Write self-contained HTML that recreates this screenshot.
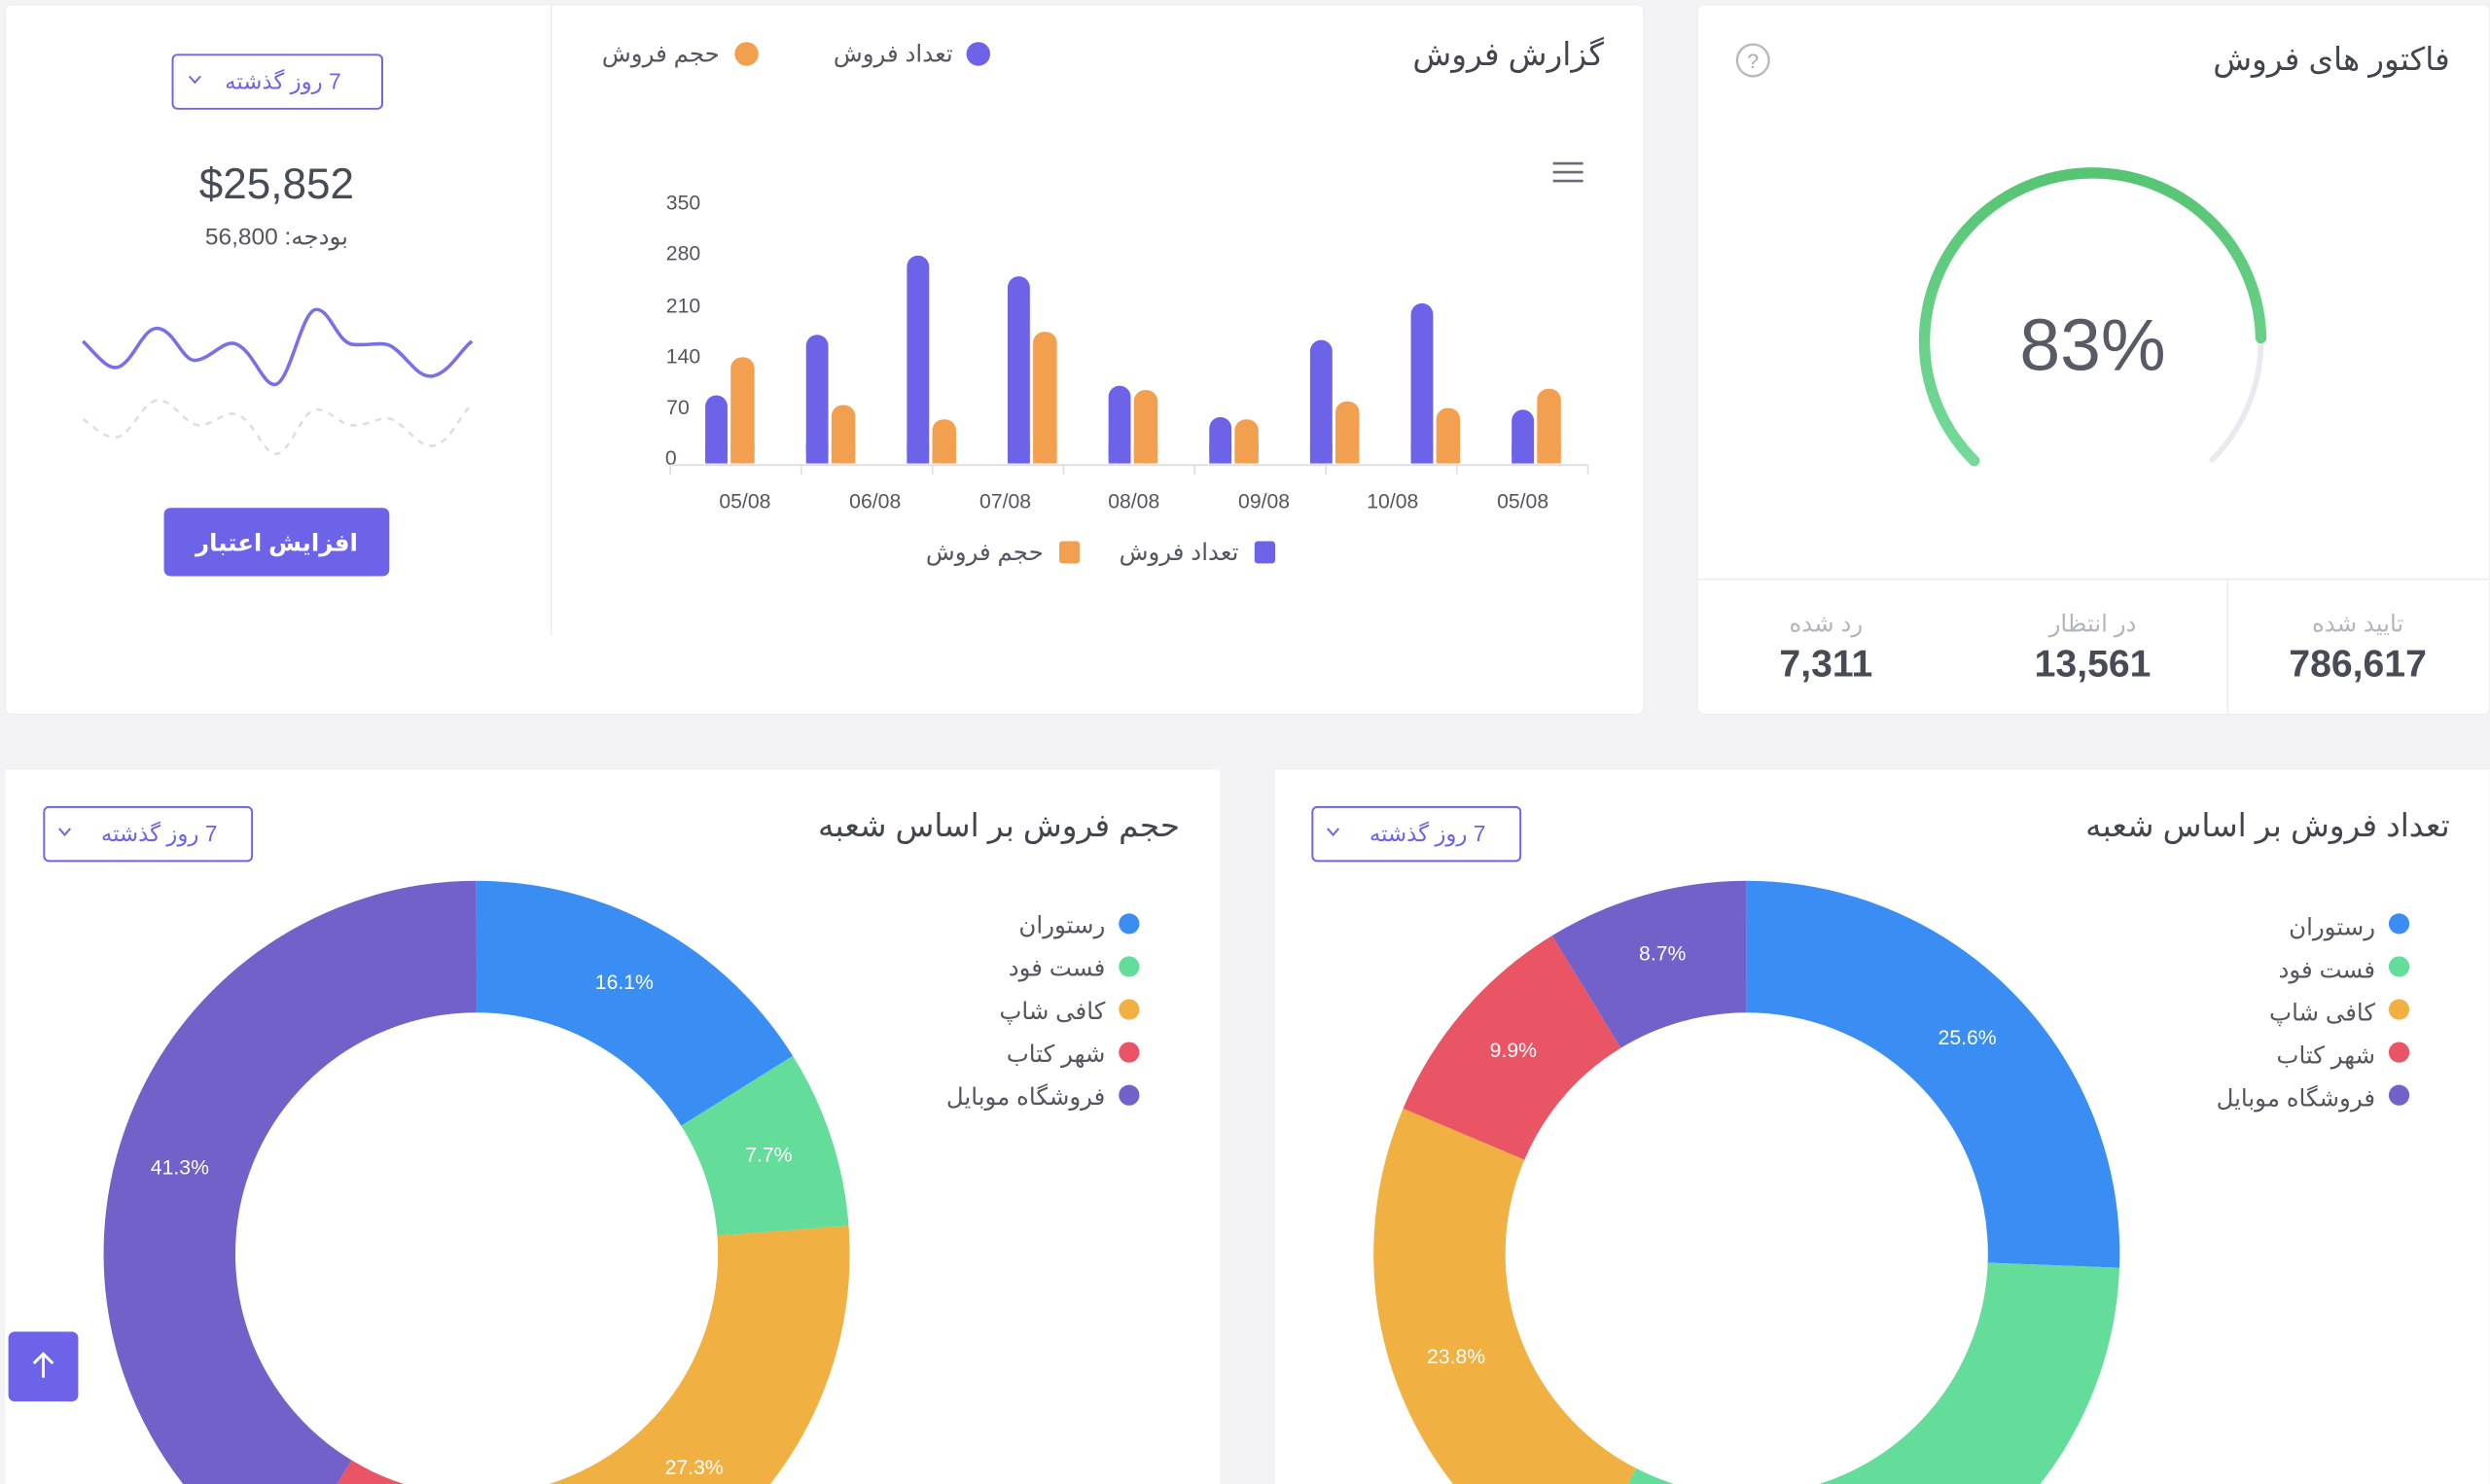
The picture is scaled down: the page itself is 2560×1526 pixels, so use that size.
<!DOCTYPE html>
<html><head><meta charset="utf-8"><style>
html,body{margin:0;padding:0;background:#f3f3f6;width:2560px;height:1526px;overflow:hidden;}
svg{display:block}
text{font-family:"Liberation Sans","DejaVu Sans",sans-serif;}
</style></head><body>
<svg width="2560" height="1526" viewBox="0 0 1568 935" xmlns="http://www.w3.org/2000/svg" overflow="hidden">
<defs>
<linearGradient id="g" x1="0" y1="1" x2="1" y2="0"><stop offset="0" stop-color="#4fc06a"/><stop offset="1" stop-color="#80e2a8"/></linearGradient>
<clipPath id="clip"><rect width="1568" height="935"/></clipPath>
</defs>
<g clip-path="url(#clip)">
<rect width="1568" height="935" fill="#f3f3f6"/>
<rect x="3" y="3" width="1032" height="447" rx="4" fill="#fff" stroke="#ececf0" stroke-width="0.6"/>
<rect x="1069" y="3" width="499" height="447" rx="4" fill="#fff" stroke="#ececf0" stroke-width="0.6"/>
<rect x="3" y="485" width="765" height="450" fill="#fff"/>
<rect x="803" y="485" width="765" height="450" fill="#fff"/>
<line x1="347" y1="3" x2="347" y2="400" stroke="#ececf0" stroke-width="1"/>

<rect x="108.5" y="34.5" width="132" height="34" rx="3" fill="none" stroke="#6c63e8" stroke-width="1.2"/>
<text x="178" y="56" font-size="14" fill="#6c63e8" text-anchor="middle" direction="rtl">7 روز گذشته</text>
<path d="M119 48 l3.5 4 l3.5 -4" fill="none" stroke="#6c63e8" stroke-width="1.2"/>
<text x="174" y="125" font-size="27" fill="#4a4a57" text-anchor="middle" font-weight="500">$25,852</text>
<text x="174" y="154" font-size="15" fill="#55555f" text-anchor="middle" direction="rtl">بودجه: 56,800</text>
<path d="M52 215 C62 225 68 234 75 231 C85 226 90 205 100 207 C110 209 115 228 123 227 C133 226 141 213 149 217 C160 222 166 245 174 242 C183 238 190 195 199 195 C208 195 212 216 222 217 C232 218 240 215 246 218 C256 224 262 238 272 237 C283 235 290 220 297 215" fill="none" stroke="#7a70e6" stroke-width="2.2"/>
<path d="M52 264 C60 270 68 278 75 275 C85 270 90 252 100 252 C110 253 116 268 126 268 C135 267 141 259 149 261 C160 265 166 287 174 286 C183 285 190 258 199 258 C208 258 214 268 222 268 C232 268 240 262 246 264 C256 268 262 281 272 281 C283 280 290 260 297 255" fill="none" stroke="#dcdce2" stroke-width="1.5" stroke-dasharray="4 4"/>
<rect x="103" y="320" width="142" height="43" rx="4" fill="#6c63e8"/>
<text x="174" y="347" font-size="15" fill="#fff" text-anchor="middle" font-weight="bold">افزایش اعتبار</text>

<text x="1010" y="41" font-size="20" fill="#44444f" text-anchor="end">گزارش فروش</text>
<circle cx="616" cy="34" r="7.5" fill="#6c63e8"/>
<text x="600" y="39" font-size="15" fill="#55555f" text-anchor="end">تعداد فروش</text>
<circle cx="470" cy="34" r="7.5" fill="#f2a04f"/>
<text x="453" y="39" font-size="15" fill="#55555f" text-anchor="end">حجم فروش</text>
<g stroke="#6b6b76" stroke-width="1.6"><line x1="978" y1="103" x2="997" y2="103"/><line x1="978" y1="108.5" x2="997" y2="108.5"/><line x1="978" y1="114" x2="997" y2="114"/></g>
<g font-size="13" fill="#55555f" text-anchor="end">
<text x="441" y="132">350</text><text x="441" y="164">280</text><text x="441" y="197">210</text><text x="441" y="229">140</text><text x="434" y="261">70</text><text x="426" y="293">0</text>
</g>
<line x1="422" y1="293" x2="1000" y2="293" stroke="#dedee3" stroke-width="1.2"/>
<g stroke="#dedee3" stroke-width="1"><line x1="422" y1="293" x2="422" y2="299"/><line x1="504.6" y1="293" x2="504.6" y2="299"/><line x1="587.1" y1="293" x2="587.1" y2="299"/><line x1="669.7" y1="293" x2="669.7" y2="299"/><line x1="752.3" y1="293" x2="752.3" y2="299"/><line x1="834.9" y1="293" x2="834.9" y2="299"/><line x1="917.4" y1="293" x2="917.4" y2="299"/><line x1="1000" y1="293" x2="1000" y2="299"/></g>
<g font-size="13" fill="#55555f" text-anchor="middle">
<text x="469" y="320">05/08</text><text x="551" y="320">06/08</text><text x="633" y="320">07/08</text><text x="714" y="320">08/08</text><text x="796" y="320">09/08</text><text x="877" y="320">10/08</text><text x="959" y="320">05/08</text>
</g>
<g fill="#6c63e8">
<rect x="444" y="249.1" width="14" height="42.9" rx="7"/><rect x="444" y="280" width="14" height="12"/>
<rect x="507.5" y="210.9" width="14" height="81.1" rx="7"/><rect x="507.5" y="280" width="14" height="12"/>
<rect x="571" y="161" width="14" height="131" rx="7"/><rect x="571" y="280" width="14" height="12"/>
<rect x="634.5" y="174.1" width="14" height="117.9" rx="7"/><rect x="634.5" y="280" width="14" height="12"/>
<rect x="698" y="243" width="14" height="49" rx="7"/><rect x="698" y="280" width="14" height="12"/>
<rect x="761.5" y="262.8" width="14" height="29.2" rx="7"/><rect x="761.5" y="280" width="14" height="12"/>
<rect x="825" y="214.2" width="14" height="77.8" rx="7"/><rect x="825" y="280" width="14" height="12"/>
<rect x="888.5" y="191.1" width="14" height="100.9" rx="7"/><rect x="888.5" y="280" width="14" height="12"/>
<rect x="952" y="258.1" width="14" height="33.9" rx="7"/><rect x="952" y="280" width="14" height="12"/>
</g>
<g fill="#f2a04f">
<rect x="460" y="225.1" width="15" height="66.9" rx="7"/><rect x="460" y="280" width="15" height="12"/>
<rect x="523.5" y="255.2" width="15" height="36.8" rx="7"/><rect x="523.5" y="280" width="15" height="12"/>
<rect x="587" y="264.2" width="15" height="27.8" rx="7"/><rect x="587" y="280" width="15" height="12"/>
<rect x="650.5" y="209" width="15" height="83" rx="7"/><rect x="650.5" y="280" width="15" height="12"/>
<rect x="714" y="245.8" width="15" height="46.2" rx="7"/><rect x="714" y="280" width="15" height="12"/>
<rect x="777.5" y="264.2" width="15" height="27.8" rx="7"/><rect x="777.5" y="280" width="15" height="12"/>
<rect x="841" y="252.9" width="15" height="39.1" rx="7"/><rect x="841" y="280" width="15" height="12"/>
<rect x="904.5" y="257.1" width="15" height="34.9" rx="7"/><rect x="904.5" y="280" width="15" height="12"/>
<rect x="968" y="244.9" width="15" height="47.1" rx="7"/><rect x="968" y="280" width="15" height="12"/>
</g>
<rect x="790" y="341" width="13" height="14" rx="2" fill="#6c63e8"/>
<text x="780" y="353" font-size="15" fill="#55555f" text-anchor="end">تعداد فروش</text>
<rect x="667" y="341" width="13" height="14" rx="2" fill="#f2a04f"/>
<text x="657" y="353" font-size="15" fill="#55555f" text-anchor="end">حجم فروش</text>

<text x="1543" y="44" font-size="20" fill="#44444f" text-anchor="end">فاکتور های فروش</text>
<circle cx="1104" cy="38" r="10" fill="none" stroke="#b9b9c2" stroke-width="1.5"/>
<text x="1104" y="43" font-size="13" fill="#a9a9b2" text-anchor="middle">?</text>
<circle cx="1318" cy="215" r="106" fill="none" stroke="#e9e9ef" stroke-width="3.5" pathLength="360" stroke-dasharray="270 90" transform="rotate(135 1318 215)" stroke-linecap="round"/>
<circle cx="1318" cy="215" r="106" fill="none" stroke="url(#g)" stroke-width="7" pathLength="360" stroke-dasharray="224 136" transform="rotate(135 1318 215)" stroke-linecap="round"/>
<text x="1318" y="233" font-size="46" fill="#5a5a66" text-anchor="middle">83%</text>
<line x1="1069" y1="365" x2="1568" y2="365" stroke="#ececf0"/>
<line x1="1403" y1="365" x2="1403" y2="450" stroke="#ececf0"/>
<g font-size="15" fill="#b4b4bd" text-anchor="middle"><text x="1485" y="398">تایید شده</text><text x="1318" y="398">در انتظار</text><text x="1150" y="398">رد شده</text></g>
<g font-size="24" fill="#4a4a57" text-anchor="middle" font-weight="bold"><text x="1485" y="426">786,617</text><text x="1318" y="426">13,561</text><text x="1150" y="426">7,311</text></g>

<text x="743" y="527" font-size="20" fill="#44444f" text-anchor="end">حجم فروش بر اساس شعبه</text>
<rect x="27.5" y="508.5" width="131" height="34" rx="3" fill="none" stroke="#6c63e8" stroke-width="1.2"/>
<text x="100" y="530" font-size="14" fill="#6c63e8" text-anchor="middle" direction="rtl">7 روز گذشته</text>
<path d="M37 522 l3.5 4 l3.5 -4" fill="none" stroke="#6c63e8" stroke-width="1.2"/>
<g transform="rotate(-90 300 790)" fill="none" stroke-width="83">
<circle cx="300" cy="790" r="193.5" pathLength="100" stroke="#3a8ef3" stroke-dasharray="16.1 83.9" stroke-dashoffset="0"/>
<circle cx="300" cy="790" r="193.5" pathLength="100" stroke="#64dc9a" stroke-dasharray="7.7 92.3" stroke-dashoffset="-16.1"/>
<circle cx="300" cy="790" r="193.5" pathLength="100" stroke="#f0b042" stroke-dasharray="27.3 72.7" stroke-dashoffset="-23.8"/>
<circle cx="300" cy="790" r="193.5" pathLength="100" stroke="#ea5566" stroke-dasharray="7.6 92.4" stroke-dashoffset="-51.1"/>
<circle cx="300" cy="790" r="193.5" pathLength="100" stroke="#7161c8" stroke-dasharray="41.3 58.7" stroke-dashoffset="-58.7"/>
</g>
<g font-size="13" fill="#fff" text-anchor="middle"><text x="393" y="623">16.1%</text><text x="484" y="732">7.7%</text><text x="437" y="929">27.3%</text><text x="113" y="740">41.3%</text></g>
<g font-size="15" fill="#55555f" text-anchor="end"><text x="696" y="588">رستوران</text><text x="696" y="615">فست فود</text><text x="696" y="642">کافی شاپ</text><text x="696" y="669">شهر کتاب</text><text x="696" y="696">فروشگاه موبایل</text></g>
<circle cx="711" cy="582" r="6.5" fill="#3a8ef3"/><circle cx="711" cy="609" r="6.5" fill="#64dc9a"/><circle cx="711" cy="636" r="6.5" fill="#f0b042"/><circle cx="711" cy="663" r="6.5" fill="#ea5566"/><circle cx="711" cy="690" r="6.5" fill="#7161c8"/>

<text x="1543" y="527" font-size="20" fill="#44444f" text-anchor="end">تعداد فروش بر اساس شعبه</text>
<rect x="826.5" y="508.5" width="131" height="34" rx="3" fill="none" stroke="#6c63e8" stroke-width="1.2"/>
<text x="899" y="530" font-size="14" fill="#6c63e8" text-anchor="middle" direction="rtl">7 روز گذشته</text>
<path d="M836 522 l3.5 4 l3.5 -4" fill="none" stroke="#6c63e8" stroke-width="1.2"/>
<g transform="rotate(-90 1100 790)" fill="none" stroke-width="83">
<circle cx="1100" cy="790" r="193.5" pathLength="100" stroke="#3a8ef3" stroke-dasharray="25.6 74.4" stroke-dashoffset="0"/>
<circle cx="1100" cy="790" r="193.5" pathLength="100" stroke="#64dc9a" stroke-dasharray="32 68" stroke-dashoffset="-25.6"/>
<circle cx="1100" cy="790" r="193.5" pathLength="100" stroke="#f0b042" stroke-dasharray="23.8 76.2" stroke-dashoffset="-57.6"/>
<circle cx="1100" cy="790" r="193.5" pathLength="100" stroke="#ea5566" stroke-dasharray="9.9 90.1" stroke-dashoffset="-81.4"/>
<circle cx="1100" cy="790" r="193.5" pathLength="100" stroke="#7161c8" stroke-dasharray="8.7 91.3" stroke-dashoffset="-91.3"/>
</g>
<g font-size="13" fill="#fff" text-anchor="middle"><text x="1239" y="658">25.6%</text><text x="1047" y="605">8.7%</text><text x="953" y="666">9.9%</text><text x="917" y="859">23.8%</text></g>
<g font-size="15" fill="#55555f" text-anchor="end"><text x="1496" y="589">رستوران</text><text x="1496" y="616">فست فود</text><text x="1496" y="643">کافی شاپ</text><text x="1496" y="670">شهر کتاب</text><text x="1496" y="697">فروشگاه موبایل</text></g>
<circle cx="1511" cy="582" r="6.5" fill="#3a8ef3"/><circle cx="1511" cy="609" r="6.5" fill="#64dc9a"/><circle cx="1511" cy="636" r="6.5" fill="#f0b042"/><circle cx="1511" cy="663" r="6.5" fill="#ea5566"/><circle cx="1511" cy="690" r="6.5" fill="#7161c8"/>

<rect x="5" y="839" width="44" height="44" rx="4" fill="#6c63e8"/>
<path d="M27 868 V853 M21 859 L27 853 L33 859" fill="none" stroke="#fff" stroke-width="1.8"/>
</g>
</svg>
</body></html>
